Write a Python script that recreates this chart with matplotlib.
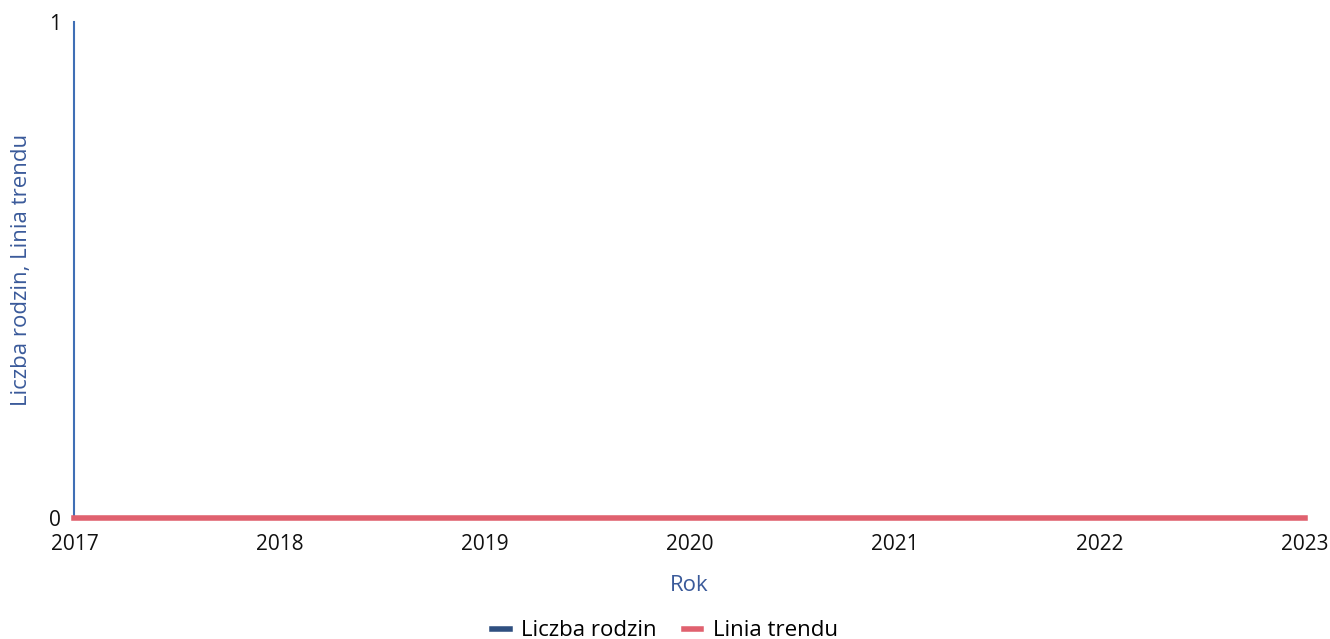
import matplotlib
matplotlib.use("Agg")
import matplotlib.pyplot as plt
from matplotlib.lines import Line2D

years = [2017, 2018, 2019, 2020, 2021, 2022, 2023]
liczba_rodzin = [0, 0, 0, 0, 0, 0, 0]
linia_trendu = [0, 0, 0, 0, 0, 0, 0]
y_ticks = [0, 1]

plt.rcParams['font.family'] = ['Open Sans', 'DejaVu Sans']

fig = plt.figure(figsize=(13.3, 6.39), dpi=100)
ax = fig.add_axes([0.056, 0.190, 0.925, 0.776])

blue = '#3f6fb5'
red = '#e0616f'

ax.plot(years, liczba_rodzin, color=blue, lw=2, zorder=2, clip_on=False)
ax.plot(years, linia_trendu, color=red, lw=4, zorder=3, clip_on=False)

ax.set_xlim(2017, 2023)
ax.set_ylim(0, 1)
ax.set_xticks(years)
ax.set_yticks(y_ticks)
ax.tick_params(length=0, labelsize=15, colors='#111111')
ax.tick_params(axis='x', pad=12)
ax.tick_params(axis='y', pad=10)

for s in ['top', 'right', 'bottom']:
    ax.spines[s].set_visible(False)
ax.spines['left'].set_color(blue)
ax.spines['left'].set_linewidth(1.5)

ax.set_xlabel('Rok', fontsize=16, color='#3a5a9a', labelpad=14)
ax.set_ylabel('Liczba rodzin, Linia trendu', fontsize=16, color='#3a5a9a', labelpad=12)

handles = [Line2D([0], [0], color='#2f4f80', lw=4),
           Line2D([0], [0], color=red, lw=4)]
fig.legend(handles, ['Liczba rodzin', 'Linia trendu'], loc='lower center',
           bbox_to_anchor=(0.5, -0.035), ncol=2, frameon=False, fontsize=16,
           handlelength=0.8, handletextpad=0.5, columnspacing=1.2)

fig.savefig('out.png', dpi=100, facecolor='white')
